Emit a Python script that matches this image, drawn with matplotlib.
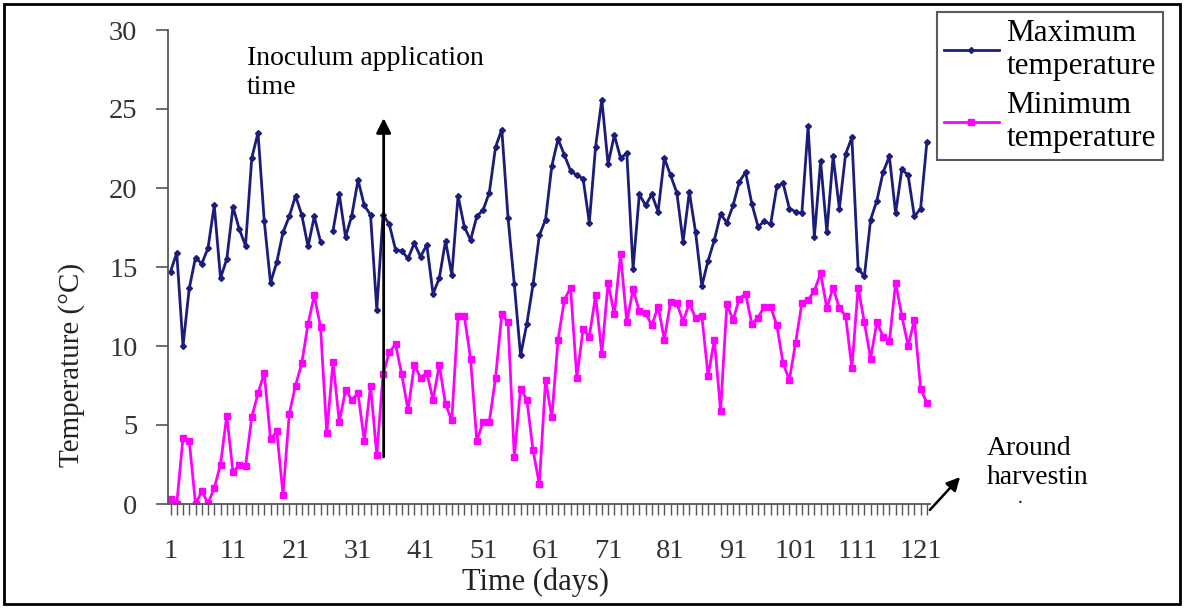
import numpy as np
import matplotlib.pyplot as plt
from matplotlib.patches import Rectangle

# daily max / min temperature (day 26 max missing)
days = np.arange(1, 123)
max_temp = [
    14.7, 15.9, 10.0, 13.65, 15.6, 15.2, 16.2, 18.9, 14.3, 15.5,
    18.8, 17.4, 16.35, 21.9, 23.5, 17.9, 14.0, 15.3, 17.2, 18.2,
    19.5, 18.3, 16.3, 18.2, 16.6, np.nan, 17.3, 19.6, 16.9, 18.25,
    20.5, 18.9, 18.3, 12.3, 18.3, 17.7, 16.1, 16.0, 15.55, 16.5,
    15.65, 16.4, 13.3, 14.3, 16.65, 14.5, 19.5, 17.55, 16.7, 18.2,
    18.6, 19.7, 22.6, 23.7, 18.1, 13.9, 9.4, 11.4, 13.9, 17.0,
    18.0, 21.4, 23.1, 22.1, 21.1, 20.8, 20.6, 17.8, 22.6, 25.6,
    21.5, 23.35, 21.9, 22.2, 14.9, 19.6, 18.9, 19.6, 18.5, 21.9,
    20.8, 19.7, 16.6, 19.75, 17.2, 13.8, 15.4, 16.7, 18.35, 17.8,
    18.9, 20.4, 21.0, 19.0, 17.55, 17.9, 17.7, 20.1, 20.3, 18.7,
    18.5, 18.4, 23.9, 16.9, 21.7, 17.2, 22.0, 18.7, 22.15, 23.2,
    14.9, 14.4, 18.0, 19.2, 21.0, 22.0, 18.4, 21.2, 20.8, 18.2,
    18.7, 22.9,
]
min_temp = [
    0.3, 0.0, 4.2, 4.0, 0.0, 0.8, 0.05, 1.0, 2.5, 5.6,
    2.0, 2.5, 2.4, 5.5, 7.0, 8.3, 4.1, 4.6, 0.6, 5.7,
    7.5, 8.9, 11.4, 13.2, 11.2, 4.5, 9.0, 5.2, 7.2, 6.6,
    7.0, 4.0, 7.5, 3.1, 8.2, 9.6, 10.1, 8.2, 5.95, 8.8,
    8.0, 8.3, 6.6, 8.8, 6.3, 5.3, 11.9, 11.9, 9.2, 4.0,
    5.2, 5.2, 8.0, 12.0, 11.5, 3.0, 7.3, 6.6, 3.4, 1.25,
    7.85, 5.5, 10.4, 12.9, 13.7, 8.0, 11.05, 10.6, 13.2, 9.5,
    14.0, 12.0, 15.8, 11.5, 13.6, 12.2, 12.1, 11.3, 12.5, 10.4,
    12.8, 12.7, 11.55, 12.7, 11.75, 11.9, 8.1, 10.4, 5.9, 12.65,
    11.65, 13.0, 13.3, 11.4, 11.8, 12.5, 12.5, 11.3, 8.9, 7.85,
    10.2, 12.7, 12.9, 13.5, 14.6, 12.4, 13.7, 12.4, 11.9, 8.6,
    13.7, 11.5, 9.2, 11.5, 10.6, 10.3, 14.0, 11.9, 10.0, 11.65,
    7.3, 6.4,
]
x_labels = list(range(1, 122, 10))
y_ticks = [0, 5, 10, 15, 20, 25, 30]

plt.rcParams['font.family'] = ['Liberation Serif', 'DejaVu Serif']

W, H = 1184, 608
fig = plt.figure(figsize=(W / 100, H / 100), dpi=100)
ax = fig.add_axes([168 / W, 1 - 504 / H, (930 - 168) / W, (504 - 30) / H])

ax.plot(days, max_temp, color='#1c1c7a', lw=2.0, marker='D', ms=3,
        label='Maximum\ntemperature')
ax.plot(days, min_temp, color='#ff00ff', lw=2.0, marker='s', ms=4.2,
        label='Minimum\ntemperature')

ax.set_xlim(0.6, 122.5)
ax.set_ylim(0, 30)
ax.set_yticks(y_ticks)
ax.set_xticks(days, minor=True)
ax.set_xticks(x_labels)
ax.tick_params(axis='y', direction='out', length=9, width=1.2, color='#555555',
               labelsize=20.5, labelcolor='#333333', pad=13)
ax.tick_params(axis='x', which='both', direction='out', length=8, width=1,
               color='#555555', labelsize=20.5, labelcolor='#333333', pad=17)
for s in ['top', 'right']:
    ax.spines[s].set_visible(False)
for s in ['left', 'bottom']:
    ax.spines[s].set_color('#555555')
    ax.spines[s].set_linewidth(1.3)

fig.text(535 / W, 1 - 582 / H, 'Time (days)', fontsize=22, color='#222222',
         ha='center', va='center')
fig.text(72 / W, 1 - 365 / H, 'Temperature (\u00b0C)', fontsize=21,
         color='#222222', rotation=90, ha='center', va='center')

# annotations
ax.annotate('', xy=(35.1, 24.6), xytext=(35.1, 2.8),
            arrowprops=dict(arrowstyle='-|>', color='black', lw=2,
                            mutation_scale=22))
fig.text(247 / W, 1 - 94 / H, 'Inoculum application\ntime', fontsize=20,
         ha='left', va='baseline', linespacing=1.2)
ax.annotate('', xy=(962, H - 475), xytext=(928, H - 512),
            xycoords='figure pixels', textcoords='figure pixels',
            arrowprops=dict(arrowstyle='-|>', color='black', lw=1.8,
                            mutation_scale=20), annotation_clip=False)
fig.text(987 / W, 1 - 484 / H, 'Around\nharvestin', fontsize=20,
         ha='left', va='baseline', linespacing=1.2)
fig.text(1018 / W, 1 - 503 / H, '.', fontsize=14, ha='left', va='baseline')

leg = ax.legend(loc='upper left', bbox_to_anchor=(937 / W, 1 - 12 / H),
                bbox_transform=fig.transFigure, fontsize=22.5, frameon=True,
                fancybox=False, borderaxespad=0, handlelength=1.75,
                handletextpad=0.25, labelspacing=0.3, borderpad=0.22)
leg.get_frame().set_edgecolor('#333333')
leg.get_frame().set_linewidth(1.5)

fig.patches.append(Rectangle((4 / W, 4 / H), 1 - 8 / W, 1 - 8 / H,
                             transform=fig.transFigure, fill=False,
                             edgecolor='black', lw=2))

fig.savefig('out.png', dpi=100)
